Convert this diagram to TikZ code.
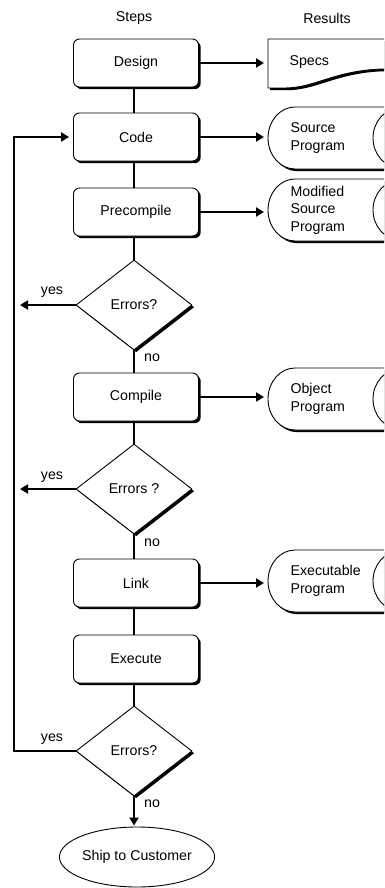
\documentclass[tikz,border=0pt]{standalone}
\usepackage{fontspec}
\setmainfont{Liberation Sans}
\usetikzlibrary{shapes.geometric,arrows.meta,shadows}
\newcommand\resultcyl[3]{%
  \path[draw, line width=0.9pt, fill=white, shadowed]
    (430,#2-31) -- (295,#2-31) .. controls (280.1,#2-31) and (268,#2-17.1) .. (268,#2)
    .. controls (268,#2+17.1) and (280.1,#2+31) .. (295,#2+31) -- (430,#2+31);
  \draw[line width=0.9pt] (400,#2) ellipse [x radius=27pt, y radius=30pt];
  \coordinate (#1) at (268,#2);
  \node[anchor=west, align=left] (#1t) at (287,#2) {#3};
}
\begin{document}
\begin{tikzpicture}[x=1pt,y=-1pt,
  every node/.style={font=\fontsize{14.2}{17.5}\selectfont},
  shadowed/.style={drop shadow={shadow xshift=2.2pt, shadow yshift=-2.2pt, opacity=1, fill=black}},
  stepbox/.style={draw, line width=0.9pt, rounded corners=6pt, fill=white,
    minimum width=125pt, minimum height=48pt, inner sep=0pt, shadowed},
  decision/.style={diamond, draw, line width=0.9pt, fill=white,
    minimum width=116pt, minimum height=90pt, inner sep=0pt, shadowed},
  conn/.style={line width=2.8pt},
  arr/.style={line width=2.8pt, -{Triangle[length=8pt,width=9pt]}},
  lbl/.style={inner sep=0pt}
]
\useasboundingbox (0,0) rectangle (384,888);
\clip (0,0) rectangle (384,888);

\coordinate (sp) at (134,0);
\coordinate (lx) at (14,0);

% headers
\node (hsteps) at (134,18) {Steps};
\node (hres) at (327,18) {Results};

% steps
\node[stepbox] (design) at (136,63) {Design};
\node[stepbox] (code) at (136,137) {Code};
\node[stepbox] (pre) at (136,212) {Precompile};
\node[decision] (d1) at (134,305) {Errors?};
\node[stepbox] (comp) at (136,397) {Compile};
\node[decision] (d2) at (134,489) {Errors ?};
\node[stepbox] (link) at (136,583) {Link};
\node[stepbox] (exec) at (136,659) {Execute};
\node[decision] (d3) at (134,751) {Errors?};
\node[ellipse, draw, line width=0.9pt, fill=white, minimum width=140pt,
  minimum height=60pt, inner sep=0pt] (ship) at (137,857) {Ship to Customer};

% vertical connectors
\draw[conn] (design.south -| sp) -- (code.north -| sp);
\draw[conn] (code.south -| sp) -- (pre.north -| sp);
\draw[conn] (pre.south -| sp) -- (d1.north);
\draw[conn] (d1.south) -- (comp.north -| sp);
\draw[conn] (comp.south -| sp) -- (d2.north);
\draw[conn] (d2.south) -- (link.north -| sp);
\draw[conn] (link.south -| sp) -- (exec.north -| sp);
\draw[conn] (exec.south -| sp) -- (d3.north);
\draw[arr, shorten >=1pt] (d3.south) -- (ship.north -| sp);

% no labels
\node[lbl, anchor=west] (no1) at (144,358) {no};
\node[lbl, anchor=west] (no2) at (144,543) {no};
\node[lbl, anchor=west] (no3) at (144,804) {no};

% yes branches
\draw[arr, shorten >=6pt] (d1.west) -- (d1.west -| lx);
\draw[arr, shorten >=6pt] (d2.west) -- (d2.west -| lx);
\draw[arr, shorten >=4pt] (d3.west) -- (d3.west -| lx) -- (code.west -| lx) -- (code.west);
\node[lbl] (y1) at (52,292) {yes};
\node[lbl] (y2) at (52,477) {yes};
\node[lbl] (y3) at (52,739) {yes};

% results
\path[draw, line width=0.9pt, fill=white, shadowed]
  (430,68) -- (384,69) .. controls (335,70) and (315,88) .. (285,88) -- (268,88)
  -- (268,39) -- (430,39);
\coordinate (specs) at (268,63);
\node[anchor=west] (specst) at (286,62) {Specs};

\resultcyl{src}{138}{Source\\Program}
\resultcyl{mod}{210}{Modified\\Source\\Program}
\resultcyl{obj}{399}{Object\\Program}
\resultcyl{exe}{581}{Executable\\Program}

\draw[arr, shorten >=4pt] (design.east) -- (design.east -| specs);
\draw[arr, shorten >=4pt] (code.east) -- (code.east -| src);
\draw[arr, shorten >=4pt] (pre.east) -- (pre.east -| mod);
\draw[arr, shorten >=4pt] (comp.east) -- (comp.east -| obj);
\draw[arr, shorten >=4pt] (link.east) -- (link.east -| exe);
\end{tikzpicture}
\end{document}
